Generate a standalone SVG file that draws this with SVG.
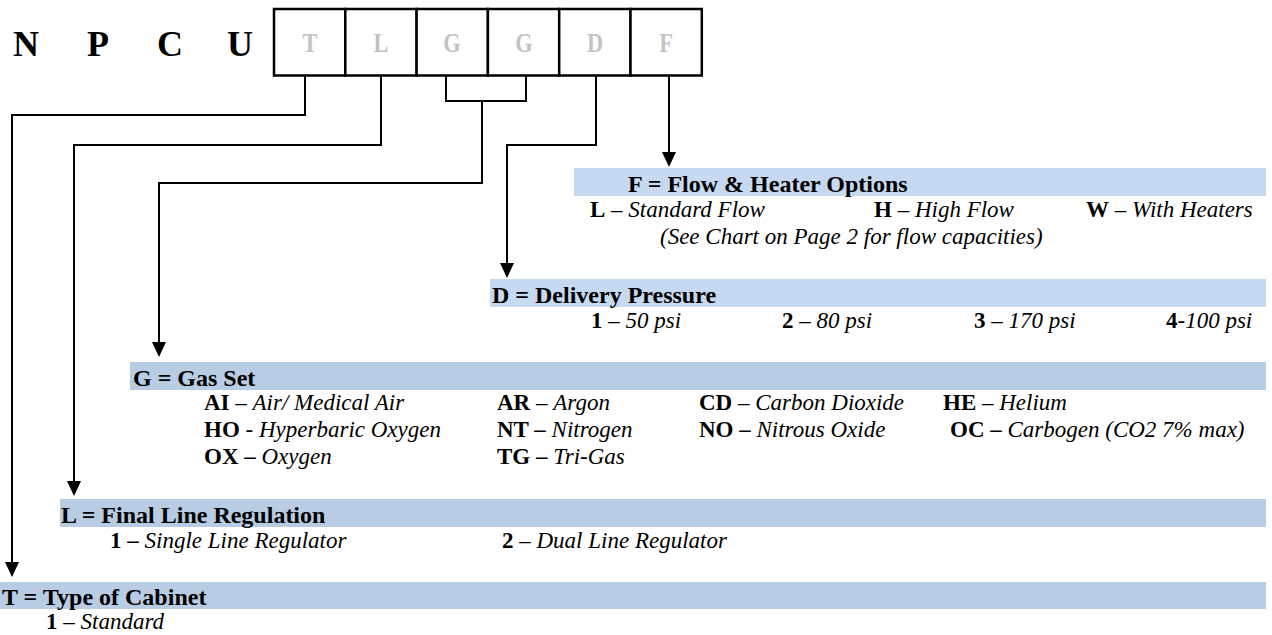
<svg xmlns="http://www.w3.org/2000/svg" width="1272" height="635" viewBox="0 0 1272 635">
<style>
.code{font-family:"Liberation Serif","Times New Roman",serif;font-weight:bold;font-size:36px;fill:#000}
.box{fill:#fff;stroke:#000;stroke-width:2.5}
.bl{font-family:"Liberation Serif","Times New Roman",serif;font-weight:bold;font-size:28px;fill:#c3c3c3;text-anchor:middle}
.hd{font-family:"Liberation Serif","Times New Roman",serif;font-weight:bold;font-size:24px;fill:#000}
.tx{font-family:"Liberation Serif","Times New Roman",serif;font-size:23px;fill:#000}
.b{font-weight:bold}
.i{font-style:italic}
.barA{fill:#c6d9f1}
.barB{fill:#b8cce4}
.ln{fill:none;stroke:#000;stroke-width:2}
</style>
<defs>
<marker id="ah" markerUnits="userSpaceOnUse" markerWidth="15" markerHeight="14" refX="0" refY="7" orient="auto" viewBox="0 0 15 14">
<path d="M0,0 L15,7 L0,14 Z" fill="#000"/>
</marker>
</defs>

<g id="code">
<text class="code" x="13" y="56">N</text>
<text class="code" x="87" y="56">P</text>
<text class="code" x="157" y="56">C</text>
<text class="code" x="227" y="56">U</text>
</g>

<g id="boxes">
<rect class="box" x="274" y="9" width="71.3" height="66.5"/>
<rect class="box" x="345.3" y="9" width="71.3" height="66.5"/>
<rect class="box" x="416.6" y="9" width="71.3" height="66.5"/>
<rect class="box" x="487.9" y="9" width="71.3" height="66.5"/>
<rect class="box" x="559.2" y="9" width="71.3" height="66.5"/>
<rect class="box" x="630.5" y="9" width="71.3" height="66.5"/>
<text class="bl" transform="translate(310,52) scale(0.8,1)">T</text>
<text class="bl" transform="translate(381,52) scale(0.8,1)">L</text>
<text class="bl" transform="translate(452,52) scale(0.8,1)">G</text>
<text class="bl" transform="translate(524,52) scale(0.8,1)">G</text>
<text class="bl" transform="translate(595,52) scale(0.8,1)">D</text>
<text class="bl" transform="translate(666,52) scale(0.8,1)">F</text>
</g>

<g id="connectors">
<path class="ln" d="M305,75.5 V115 H12 V562" marker-end="url(#ah)"/>
<path class="ln" d="M381,75.5 V145 H74 V481" marker-end="url(#ah)"/>
<path class="ln" d="M446,75.5 V101 H526 V75.5"/>
<path class="ln" d="M482,101 V183 H159 V342" marker-end="url(#ah)"/>
<path class="ln" d="M596,75.5 V145 H507 V263" marker-end="url(#ah)"/>
<path class="ln" d="M669,75.5 V152" marker-end="url(#ah)"/>
</g>

<g id="flow">
<rect class="barA" x="574" y="168" width="692" height="28"/>
<text class="hd" x="628" y="192">F = Flow &amp; Heater Options</text>
<text class="tx" x="590" y="217"><tspan class="b">L</tspan> – <tspan class="i">Standard Flow</tspan></text>
<text class="tx" x="874" y="217"><tspan class="b">H</tspan> – <tspan class="i">High Flow</tspan></text>
<text class="tx" x="1086" y="217"><tspan class="b">W</tspan> – <tspan class="i">With Heaters</tspan></text>
<text class="tx i" x="660" y="244">(See Chart on Page 2 for flow capacities)</text>
</g>

<g id="delivery">
<rect class="barA" x="490" y="279" width="776" height="28"/>
<text class="hd" x="492" y="303">D = Delivery Pressure</text>
<text class="tx" x="591" y="328"><tspan class="b">1</tspan> – <tspan class="i">50 psi</tspan></text>
<text class="tx" x="782" y="328"><tspan class="b">2</tspan> – <tspan class="i">80 psi</tspan></text>
<text class="tx" x="974" y="328"><tspan class="b">3</tspan> – <tspan class="i">170 psi</tspan></text>
<text class="tx" x="1166" y="328"><tspan class="b">4</tspan>-<tspan class="i">100 psi</tspan></text>
</g>

<g id="gas">
<rect class="barB" x="130" y="362" width="1136" height="28"/>
<text class="hd" x="133" y="386">G = Gas Set</text>
<text class="tx" x="204" y="410"><tspan class="b">AI</tspan> – <tspan class="i">Air/ Medical Air</tspan></text>
<text class="tx" x="497" y="410"><tspan class="b">AR</tspan> – <tspan class="i">Argon</tspan></text>
<text class="tx" x="699" y="410"><tspan class="b">CD</tspan> – <tspan class="i">Carbon Dioxide</tspan></text>
<text class="tx" x="943" y="410"><tspan class="b">HE</tspan> – <tspan class="i">Helium</tspan></text>
<text class="tx" x="204" y="437"><tspan class="b">HO</tspan> - <tspan class="i">Hyperbaric Oxygen</tspan></text>
<text class="tx" x="497" y="437"><tspan class="b">NT –</tspan> <tspan class="i">Nitrogen</tspan></text>
<text class="tx" x="699" y="437"><tspan class="b">NO –</tspan> <tspan class="i">Nitrous Oxide</tspan></text>
<text class="tx" x="950" y="437"><tspan class="b">OC –</tspan> <tspan class="i">Carbogen (CO2 7% max)</tspan></text>
<text class="tx" x="204" y="464"><tspan class="b">OX –</tspan> <tspan class="i">Oxygen</tspan></text>
<text class="tx" x="497" y="464"><tspan class="b">TG –</tspan> <tspan class="i">Tri-Gas</tspan></text>
</g>

<g id="line-reg">
<rect class="barB" x="60" y="499" width="1206" height="28"/>
<text class="hd" x="61" y="523">L = Final Line Regulation</text>
<text class="tx" x="110" y="548"><tspan class="b">1 –</tspan> <tspan class="i">Single Line Regulator</tspan></text>
<text class="tx" x="502" y="548"><tspan class="b">2</tspan> – <tspan class="i">Dual Line Regulator</tspan></text>
</g>

<g id="cabinet">
<rect class="barB" x="0" y="582" width="1266" height="27"/>
<text class="hd" x="2" y="605">T = Type of Cabinet</text>
<text class="tx" x="46" y="629"><tspan class="b">1</tspan> – <tspan class="i">Standard</tspan></text>
</g>
</svg>
